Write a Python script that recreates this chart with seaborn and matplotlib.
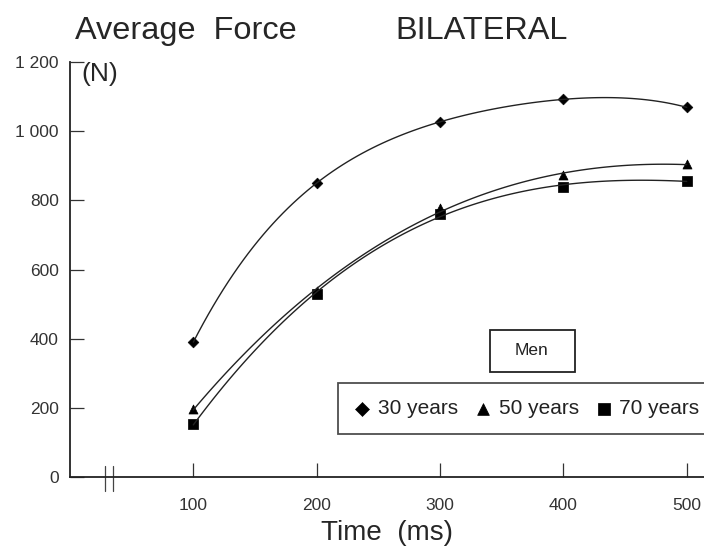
import pandas as pd
import matplotlib
matplotlib.use('Agg')
import matplotlib.pyplot as plt
import seaborn as sns

# values
time_ms = [100, 200, 300, 400, 500]
force_30 = [390, 850, 1027, 1092, 1069]
force_50 = [196, 538, 777, 872, 905]
force_70 = [152, 530, 760, 840, 856]
groups = ['30 years', '50 years', '70 years']
markers = ['D', '^', 's']
fit_order = [4, 3, 3]
y_ticks = [0, 200, 400, 600, 800, 1000, 1200]
x_ticks = [100, 200, 300, 400, 500]

data = pd.DataFrame({
    'time': time_ms * 3,
    'force': force_30 + force_50 + force_70,
    'group': [g for g in groups for _ in time_ms],
})

sns.set_style('white')
plt.rcParams['font.family'] = ['Liberation Sans', 'DejaVu Sans']

fig = plt.figure(figsize=(7.04, 5.46), dpi=100)
ax = fig.add_axes([0.0994, 0.1264, 0.9006, 0.760])

for g, m, o in zip(groups, markers, fit_order):
    sub = data[data['group'] == g]
    # smooth curve through the points
    sns.regplot(x='time', y='force', data=sub, order=o, ci=None, scatter=False,
                ax=ax, line_kws={'color': '#222222', 'lw': 1.0})
    sns.scatterplot(x='time', y='force', data=sub, marker=m, color='black',
                    s=42 if m != 'D' else 30, edgecolor='black', ax=ax, label=g)

ax.set_xlim(0, 514)
ax.set_ylim(0, 1200)
ax.set_xticks(x_ticks)
ax.set_yticks(y_ticks)
ax.set_yticklabels(['{:,}'.format(v).replace(',', ' ') for v in y_ticks])
ax.tick_params(bottom=True, left=True, direction='in', length=10, width=0.9,
               labelsize=12.5, colors='#333333')
ax.tick_params(axis='y', pad=8)
ax.tick_params(axis='x', pad=15)
sns.despine(ax=ax)
ax.spines['left'].set_linewidth(1.3)
ax.spines['bottom'].set_linewidth(1.3)
ax.spines['left'].set_color('#222222')
ax.spines['bottom'].set_color('#222222')

ax.set_xlabel('Time  (ms)', fontsize=20, labelpad=5)
ax.set_ylabel('')

# axis break marks
for xb in [28, 35]:
    ax.plot([xb, xb], [-40, 32], color='#444444', lw=0.9, clip_on=False)

fig.text(0.107, 0.943, 'Average  Force', fontsize=23.4, va='center', ha='left')
fig.text(0.561, 0.943, 'BILATERAL', fontsize=23.4, va='center', ha='left')
ax.text(0.018, 0.97, '(N)', transform=ax.transAxes, fontsize=19, va='center', ha='left')

# "Men" box
ax.add_patch(plt.Rectangle((0.6625, 0.253), 0.134, 0.101, transform=ax.transAxes,
                           fill=False, ec='#222222', lw=1.3))
ax.text(0.7287, 0.304, 'Men', transform=ax.transAxes, fontsize=12.5, ha='center',
        va='center', color='#222222')

leg = ax.legend(loc='center left', bbox_to_anchor=(0.423, 0.165), ncol=3, frameon=True,
                fancybox=False, edgecolor='#222222', fontsize=15, handletextpad=0.35,
                columnspacing=0.8, markerscale=1.3, borderpad=0.75, handlelength=0.8,
                borderaxespad=0)
leg.get_frame().set_linewidth(1.3)
for t in leg.get_texts():
    t.set_color('#222222')

fig.savefig('out.png', dpi=100)
